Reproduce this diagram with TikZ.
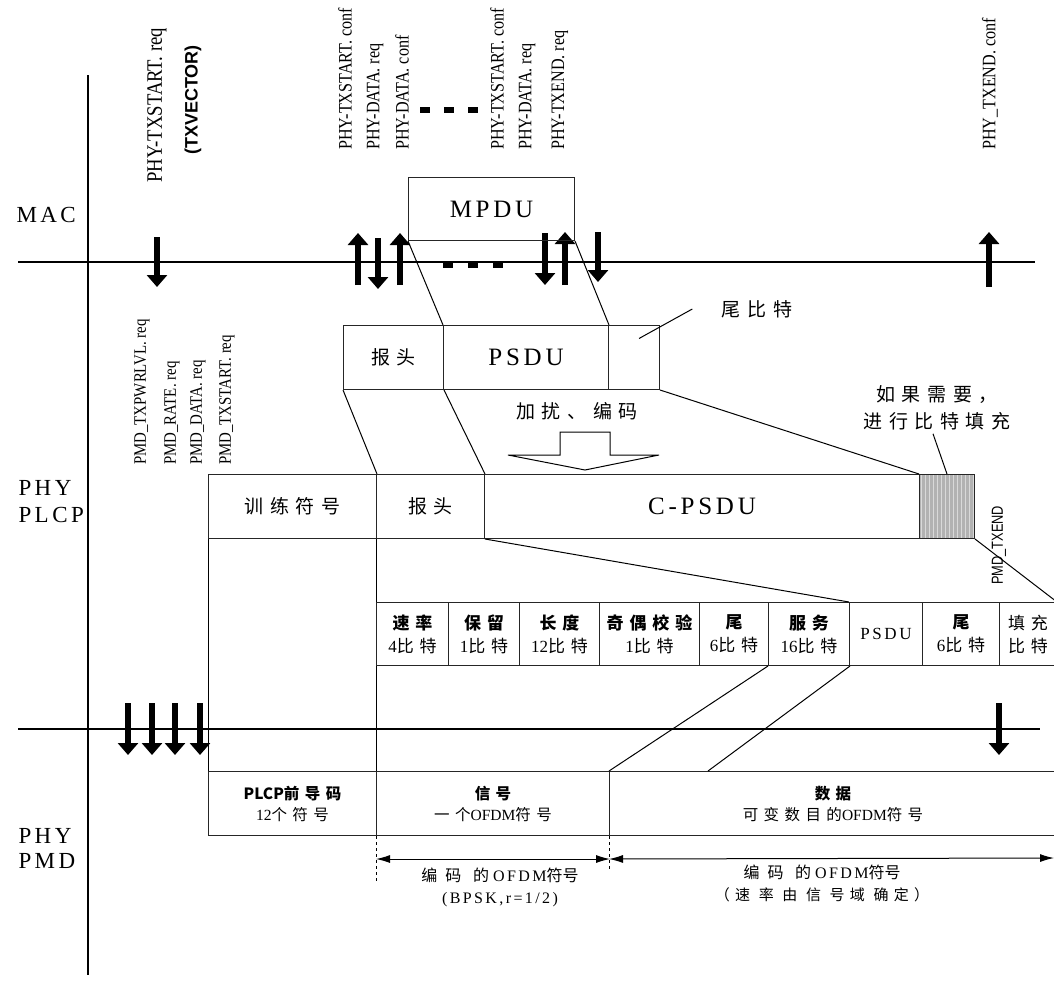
\documentclass[tikz,border=0pt]{standalone}
\usepackage{fontspec}
\setmainfont{Liberation Serif}
\setsansfont{Liberation Sans}
\newfontfamily\cjk{Noto Sans CJK SC}
\newfontfamily\cjkwide[LetterSpace=50]{Noto Sans CJK SC}
\newfontfamily\cjkmid[LetterSpace=35]{Noto Sans CJK SC}
\newfontfamily\rmwide[LetterSpace=15]{Liberation Serif}
\newfontfamily\rmnarrow[FakeStretch=0.85]{Liberation Serif}
\newfontfamily\sfnarrow[FakeStretch=0.8]{Liberation Sans}
\usetikzlibrary{arrows.meta, positioning, calc}

\tikzset{
    cell/.style={draw=black!85, line width=1pt, anchor=north west,
        inner sep=0pt, align=center},
    layer/.style={line width=2pt},
    blk/.style={line width=6pt, -{Triangle[length=12pt, width=20pt]}},
    link/.style={line width=1pt},
    dim/.style={line width=1pt,
        {Latex[length=14pt, width=8pt]}-{Latex[length=14pt, width=8pt]}},
    tag/.style={rotate=90, anchor=west, inner sep=0pt,
        font=\rmnarrow\fontsize{19}{19}\selectfont},
    pmdtag/.style={tag, font=\rmnarrow\fontsize{17.5}{17.5}\selectfont},
    side/.style={anchor=west, align=left,
        font=\rmwide\fontsize{23}{27}\selectfont},
    big/.style={font=\rmwide\fontsize{25}{25}\selectfont},
    zh/.style={font=\cjkmid\fontsize{19}{27}\selectfont},
    fld/.style={cell, minimum height=63pt,
        font=\fontsize{17}{23}\selectfont},
    low/.style={cell, minimum height=64pt,
        font=\fontsize{15.5}{21}\selectfont},
    note/.style={inner sep=0pt, align=center,
        font=\fontsize{16}{22}\selectfont}
}

\begin{document}
\begin{tikzpicture}[x=1pt, y=-1pt]
\useasboundingbox (0,0) rectangle (1054,980);

% layer lines
\draw[layer] (88,75) -- (88,975);
\draw[layer] (18,262) -- (1035,262);
\draw[layer] (18,729) -- (1040,729);

\node[side] (mac) at (13,215) {MAC};
\node[side] (plcp) at (15,502) {PHY\\PLCP};
\node[side, font=\rmwide\fontsize{23}{25}\selectfont] (pmd) at (15,848) {PHY\\PMD};

% primitives at the MAC interface
\node[tag, font=\rmnarrow\fontsize{22}{22}\selectfont] (txreq) at (157,183) {PHY-TXSTART. req};
\node[tag, font=\sffamily\bfseries\fontsize{18}{18}\selectfont] (txvec) at (193,155) {(TXVECTOR)};
\node[tag] (stconf) at (345,150) {PHY-TXSTART. conf};
\node[tag] (dreq) at (375,150) {PHY-DATA. req};
\node[tag] (dconf) at (402,150) {PHY-DATA. conf};
\node[tag] (stconfb) at (497,150) {PHY-TXSTART. conf};
\node[tag] (dreqb) at (527,150) {PHY-DATA. req};
\node[tag] (endreq) at (560,150) {PHY-TXEND. req};
\node[tag] (endconf) at (990,150) {PHY\_TXEND. conf};
\draw[line width=6pt, dash pattern=on 10pt off 14pt] (420,110) -- (478,110);

% primitives at the PMD interface
\node[pmdtag] (pwr) at (142,465) {PMD\_TXPWRLVL. req};
\node[pmdtag] (rate) at (172,465) {PMD\_RATE. req};
\node[pmdtag] (pdata) at (198,465) {PMD\_DATA. req};
\node[pmdtag] (pstart) at (227,465) {PMD\_TXSTART. req};
\node[tag, font=\sfnarrow\fontsize{16}{16}\selectfont] (pend) at (999,585) {PMD\_TXEND};

% block arrows
\foreach \x/\a/\b in {157/237/287, 378/238/289, 545/233/285, 598/232/282,
                      358/285/233, 400/285/233, 565/285/232, 989/287/232,
                      128/703/755, 152/703/755, 175/703/755, 200/703/755, 999/703/755}
    \draw[blk] (\x,\a) -- (\x,\b);
\draw[line width=6pt, dash pattern=on 10pt off 15pt] (443,265) -- (504,265);

% MAC frame and PSDU
\node[cell, big, minimum width=166pt, minimum height=63pt] (mpdu) at (408,177) {MPDU};
\node[cell, zh, minimum width=100pt, minimum height=64pt] (hdrA) at (343,325) {报头};
\node[cell, big, minimum width=165pt, minimum height=64pt] (psduA) at (443,325) {PSDU};
\node[cell, minimum width=51pt, minimum height=64pt] (tailA) at (608,325) {};
\node[zh] (tailtxt) at (757,309) {尾比特};
\draw[link] (tailA.center) ++(5,-19) -- ($(tailtxt.west)+(-26,0)$);

\node[zh] (scr) at (577,411) {加扰、编码};
\draw[line width=1pt] (560,432) -- (610,432) -- (610,455) -- (659,455)
    -- (585,470) -- (508,455) -- (560,455) -- cycle;

\node[zh, align=center] (padtxt) at (937,408) {如果需要，\\进行比特填充};

% coded PLCP frame
\node[cell, zh, minimum width=168pt, minimum height=64pt] (train) at (208,474) {训练符号};
\node[cell, zh, minimum width=108pt, minimum height=64pt] (hdrB) at (376,474) {报头};
\node[cell, big, minimum width=435pt, minimum height=64pt] (cpsdu) at (484,474) {C-PSDU};
\node[cell, fill=gray!60, minimum width=55pt, minimum height=64pt,
      path picture={\foreach \i in {0,...,13}
          \draw[gray!30, line width=1.3pt]
              ([xshift=\i*4pt+2pt]path picture bounding box.south west)
              -- ([xshift=\i*4pt+2pt]path picture bounding box.north west);}]
      (pad) at (919,474) {};
\draw[link] (pad.north) -- ([xshift=-4pt]padtxt.south);

% header fields
\node[fld, minimum width=72pt] (rate) at (376,602) {{\cjkmid\bfseries 速率}\\4{\cjkmid 比特}};
\node[fld, minimum width=71pt] (rsv) at (448,602) {{\cjkmid\bfseries 保留}\\1{\cjkmid 比特}};
\node[fld, minimum width=80pt] (len) at (519,602) {{\cjkmid\bfseries 长度}\\12{\cjkmid 比特}};
\node[fld, minimum width=100pt] (par) at (599,602) {{\cjkmid\bfseries 奇偶校验}\\1{\cjkmid 比特}};
\node[fld, minimum width=69pt] (tailb) at (699,602) {{\cjkmid\bfseries 尾}\\6{\cjkmid 比特}};
\node[fld, minimum width=81pt] (svc) at (768,602) {{\cjkmid\bfseries 服务}\\16{\cjkmid 比特}};
\node[fld, minimum width=73pt, font=\rmwide\fontsize{17}{17}\selectfont] (fpsdu) at (849,602) {PSDU};
\node[fld, minimum width=77pt] (tailc) at (922,602) {{\cjkmid\bfseries 尾}\\6{\cjkmid 比特}};
\node[fld, minimum width=57pt] (fill) at (999,602) {{\cjkmid 填充}\\{\cjkmid 比特}};

% PMD symbols
\node[low, minimum width=168pt] (pre) at (208,771) {{\cjk\bfseries PLCP}{\cjkmid\bfseries 前导码}\\12{\cjkmid 个符号}};
\node[low, minimum width=233pt] (sig) at (376,771) {{\cjkmid\bfseries 信号}\\{\cjkmid 一个}OFDM{\cjkmid 符号}};
\node[low, minimum width=447pt] (data) at (609,771) {{\cjkmid\bfseries 数据}\\{\cjkmid 可变数目的}OFDM{\cjkmid 符号}};

% mapping lines
\draw[link] (mpdu.south west) -- (psduA.north west);
\draw[link] (mpdu.south east) -- (psduA.north east);
\draw[link] (hdrA.south west) -- (train.north east);
\draw[link] (hdrA.south east) -- (hdrB.north east);
\draw[link] (tailA.south east) -- (pad.north west);
\draw[link] (hdrB.south east) -- (fpsdu.north west);
\draw[link] (pad.south east) -- (fill.north east);
\draw[link] (train.south west) -- (pre.north west);
\draw[link] (hdrB.south west) -- (rate.north west);
\draw[link] (rate.south west) -- (sig.north west);
\draw[link] (svc.south west) -- (data.north west);
\draw[link] (svc.south east) -- ([xshift=99pt]data.north west);

% durations
\coordinate (dimend) at (1054,858);
\draw[link, dashed] (sig.south west) -- ++(0,45);
\draw[link, dashed] (data.south west) -- ++(0,33);
\draw[dim] ([yshift=-23pt]sig.south west) -- ([yshift=-23pt]sig.south east);
\draw[dim] ([yshift=-23pt]data.south west) -- (dimend);
\node[note] (durA) at (500,887) {{\cjkwide 编码 的} {\rmwide OFDM}{\cjk 符号}\\{\rmwide (BPSK,r=1/2)}};
\node[note] (durB) at (822,883) {{\cjkwide 编码 的} {\rmwide OFDM}{\cjk 符号}\\{\cjkmid\fontsize{15}{22}\selectfont （速 率 由 信 号域 确定）}};

\end{tikzpicture}
\end{document}
